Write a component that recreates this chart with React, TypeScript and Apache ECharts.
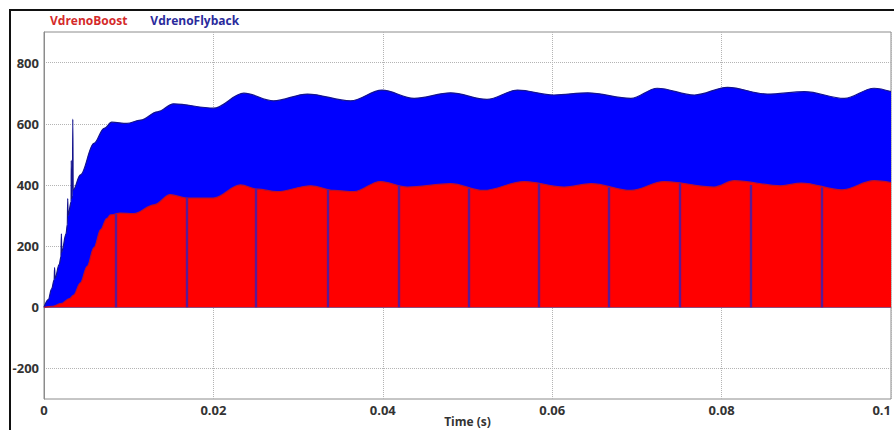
import React, { useEffect, useRef } from 'react';
import * as echarts from 'echarts';

const legendNames = ['VdrenoBoost', 'VdrenoFlyback'];
const xTicks = [0, 0.02, 0.04, 0.06, 0.08, 0.1];
const yTicks = [-200, 0, 200, 400, 600, 800];

// VdrenoFlyback envelope (switching waveform, filled from 0)
const flybackTime = [0, 0.0005, 0.0009, 0.0012, 0.00125, 0.0013, 0.0018, 0.002, 0.00205, 0.0021, 0.0026, 0.00275, 0.0028, 0.00285, 0.0032, 0.00322, 0.00326, 0.00335, 0.0034, 0.00345, 0.0043, 0.0059, 0.0071, 0.008, 0.0098, 0.0114, 0.0134, 0.0153, 0.02, 0.0236, 0.0271, 0.0311, 0.0362, 0.0399, 0.0437, 0.048, 0.0523, 0.0559, 0.0602, 0.0642, 0.0693, 0.0724, 0.0768, 0.0807, 0.0854, 0.0898, 0.0945, 0.098, 0.1];
const flybackVolt = [0, 25, 60, 90, 130, 95, 140, 165, 240, 180, 240, 270, 355, 300, 345, 480, 355, 365, 615, 384, 433, 536, 585, 605, 601, 612, 639, 665, 651, 700, 675, 697, 675, 710, 683, 701, 680, 710, 694, 701, 683, 716, 694, 719, 697, 705, 683, 716, 705];

// VdrenoBoost envelope
const boostTime = [0, 0.001, 0.002, 0.003, 0.0035, 0.0043, 0.0051, 0.0059, 0.0067, 0.0074, 0.00785, 0.009, 0.0106, 0.013, 0.0149, 0.0169, 0.02, 0.0232, 0.0252, 0.0275, 0.0315, 0.0342, 0.0366, 0.0397, 0.0429, 0.048, 0.0519, 0.0567, 0.0614, 0.0646, 0.0693, 0.0732, 0.0791, 0.0815, 0.087, 0.0894, 0.0942, 0.098, 0.1];
const boostVolt = [0, 3, 12, 28, 40, 80, 134, 195, 254, 290, 302, 308, 306, 335, 368, 357, 357, 400, 386, 378, 397, 382, 378, 411, 393, 404, 382, 411, 393, 404, 382, 411, 393, 414, 397, 406, 384, 414, 408];

// narrow notches of the boost trace (flyback shows through)
const notchTime = [0.00844, 0.0168, 0.025, 0.0335, 0.0419, 0.0502, 0.0584, 0.0667, 0.0751, 0.0835, 0.0918];
const notchTop = [305, 358, 388, 384, 398, 388, 404, 392, 405, 400, 392];

const zip = (a: number[], b: number[]) => a.map((v, i) => [v, b[i]]);

export default function App() {
  const ref = useRef<HTMLDivElement>(null);
  useEffect(() => {
    if (!ref.current) return;
    const chart = echarts.init(ref.current, null, { renderer: 'svg' });
    const font = 'Open Sans';
    chart.setOption({
      animation: false,
      backgroundColor: '#ffffff',
      textStyle: { fontFamily: font },
      legend: {
        left: 40,
        top: 8,
        padding: 5,
        itemWidth: 0,
        itemHeight: 14,
        itemGap: 18,
        icon: 'none',
        selectedMode: false,
        data: [
          { name: legendNames[0], textStyle: { color: '#d42a2a', fontWeight: 'bold', fontSize: 12, fontFamily: font } },
          { name: legendNames[1], textStyle: { color: '#2a2a9c', fontWeight: 'bold', fontSize: 12, fontFamily: font } },
        ],
      },
      graphic: [
        {
          type: 'polyline',
          shape: { points: [[10, 432], [10, 10], [894, 10]] },
          style: { stroke: '#111', lineWidth: 2, fill: 'none' },
          silent: true,
        },
      ],
      grid: {
        left: 44,
        right: 5,
        top: 32,
        bottom: 31,
        containLabel: false,
        outerBoundsMode: 'none',
        show: true,
        borderColor: '#8c8c8c',
        borderWidth: 1,
        backgroundColor: 'transparent',
      },
      xAxis: {
        type: 'value',
        min: 0,
        max: 0.1,
        interval: 0.02,
        name: 'Time (s)',
        nameLocation: 'middle',
        nameGap: 16,
        nameMoveOverlap: false,
        nameTextStyle: { color: '#333', fontWeight: 'bold', fontSize: 12, fontFamily: font },
        axisLine: { show: true, lineStyle: { color: '#8c8c8c' } },
        axisTick: { show: false },
        axisLabel: {
          color: '#333',
          fontWeight: 'bold',
          fontSize: 13,
          margin: 4,
          fontFamily: font,
          customValues: xTicks,
          alignMaxLabel: 'right',
        },
        splitLine: { show: true, lineStyle: { color: '#b4b4b4', type: 'dotted', width: 1 } },
      },
      yAxis: {
        type: 'value',
        min: -300,
        max: 900,
        interval: 100,
        axisLine: { show: true, lineStyle: { color: '#8c8c8c' } },
        axisTick: { show: false, customValues: yTicks },
        axisLabel: {
          color: '#333',
          fontWeight: 'bold',
          fontSize: 13,
          margin: 5,
          fontFamily: font,
          customValues: yTicks,
        },
        splitLine: { show: true, lineStyle: { color: '#b4b4b4', type: 'dotted', width: 1 } },
      },
      series: [
        {
          name: legendNames[1],
          type: 'line',
          data: zip(flybackTime, flybackVolt),
          symbol: 'none',
          smooth: 0.35,
          smoothMonotone: 'x',
          lineStyle: { color: '#14148c', width: 1.2 },
          itemStyle: { color: '#0000ff' },
          areaStyle: { color: '#0000ff', opacity: 1 },
          z: 2,
        },
        {
          name: legendNames[0],
          type: 'line',
          data: zip(boostTime, boostVolt),
          symbol: 'none',
          smooth: 0.35,
          smoothMonotone: 'x',
          lineStyle: { color: '#b8102e', width: 1.2 },
          itemStyle: { color: '#ff0000' },
          areaStyle: { color: '#ff0000', opacity: 1 },
          z: 3,
          markLine: {
            silent: true,
            symbol: ['none', 'none'],
            label: { show: false },
            lineStyle: { color: '#5a1a96', width: 2.4, type: 'solid' },
            data: notchTime.map((t, i) => [{ coord: [t, 0] }, { coord: [t, notchTop[i]] }]),
          },
        },
      ],
    });
    return () => chart.dispose();
  }, []);
  return (
    <div
      ref={ref}
      style={{ position: 'fixed', left: 0, top: 0, width: 896, height: 430 }}
    />
  );
}
